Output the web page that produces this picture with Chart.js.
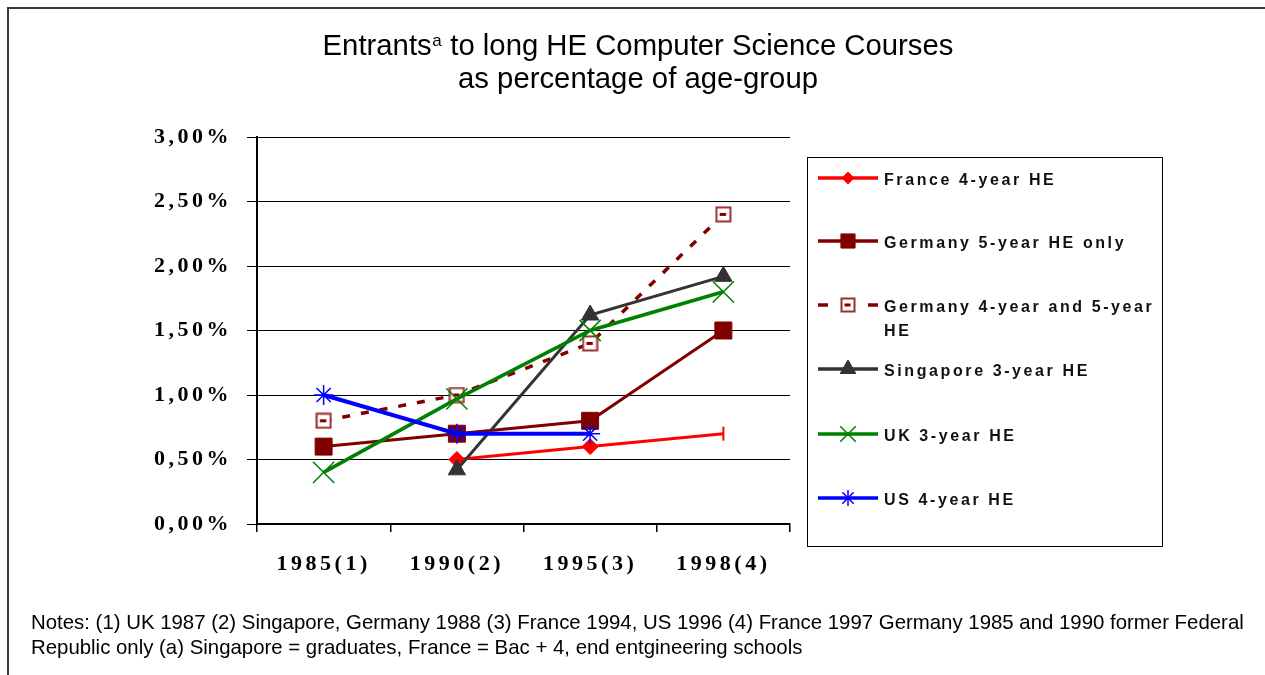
<!DOCTYPE html>
<html>
<head>
<meta charset="utf-8">
<script src="https://cdn.jsdelivr.net/npm/chart.js@4/dist/chart.umd.min.js"></script>
<style>
  html, body { margin: 0; padding: 0; background: #fff; }
  #wrap { position: relative; width: 1265px; height: 675px; }
</style>
</head>
<body>
<div id="wrap"><canvas id="c"></canvas></div>
<script>
// Entrants to long HE computer science courses, % of age-group
const categories = ['1985(1)', '1990(2)', '1995(3)', '1998(4)'];
const franceHE4 = [null, 0.5, 0.6, 0.7];
const germanyHE5 = [0.6, 0.7, 0.8, 1.5];
const germanyHE45 = [0.8, 1.0, 1.4, 2.4];
const singaporeHE3 = [null, 0.42, 1.62, 1.92];
const ukHE3 = [0.4, 0.97, 1.5, 1.8];
const usHE4 = [1.0, 0.7, 0.7, null];
const yTickValues = [0, 0.5, 1, 1.5, 2, 2.5, 3];

const seriesLabels = [
  ['France 4-year HE'],
  ['Germany 5-year HE only'],
  ['Germany 4-year and 5-year', 'HE'],
  ['Singapore 3-year HE'],
  ['UK 3-year HE'],
  ['US 4-year HE']
];
const titleMain = 'Entrants';
const titleSup = 'a';
const titleRest = ' to long HE Computer Science Courses';
const titleLine2 = 'as percentage of age-group';
const notes = [
  'Notes: (1) UK 1987 (2) Singapore, Germany 1988 (3) France 1994, US 1996 (4) France 1997 Germany 1985 and 1990 former Federal',
  'Republic only (a) Singapore = graduates, France = Bac + 4, end entgineering schools'
];

// hollow square marker with a short dash through it
function hollowSquare(size) {
  const c = document.createElement('canvas');
  c.width = c.height = size;
  const g = c.getContext('2d');
  g.fillStyle = '#fff';
  g.fillRect(1, 1, size - 2, size - 2);
  g.strokeStyle = '#9c2f2f';
  g.lineWidth = 2;
  g.strokeRect(1.5, 1.5, size - 3, size - 3);
  g.strokeStyle = '#800000';
  g.lineWidth = 3;
  g.beginPath();
  g.moveTo(size * 0.28, size / 2);
  g.lineTo(size * 0.66, size / 2);
  g.stroke();
  return c;
}
const squareMark = hollowSquare(17);
const squareMarkSmall = hollowSquare(16);

const FONT_SANS = '"Liberation Sans", Arial, Helvetica, sans-serif';
const FONT_SERIF = '"Liberation Serif", "Times New Roman", serif';

const datasets = [
  {
    label: seriesLabels[0].join(' '), data: franceHE4,
    borderColor: '#ff0000', backgroundColor: '#ff0000', borderWidth: 3,
    pointStyle: ['rectRot', 'rectRot', 'rectRot', 'line'],
    pointRotation: [0, 0, 0, 90],
    pointRadius: [8, 8, 8, 7], pointBorderWidth: [1, 1, 1, 2],
    pointBackgroundColor: '#ff0000', pointBorderColor: '#ff0000', order: 6,
    legendPoint: { pointStyle: 'rectRot', radius: 6, rotation: 0, borderWidth: 1 }
  },
  {
    label: seriesLabels[1].join(' '), data: germanyHE5,
    borderColor: '#800000', backgroundColor: '#800000', borderWidth: 3,
    pointStyle: 'rect', pointRadius: 12, pointBorderWidth: 1,
    pointBackgroundColor: '#800000', pointBorderColor: '#800000', order: 5,
    legendPoint: { pointStyle: 'rect', radius: 10, rotation: 0, borderWidth: 1 }
  },
  {
    label: seriesLabels[2].join(' '), data: germanyHE45,
    borderColor: '#800000', backgroundColor: '#800000', borderWidth: 3.5,
    borderDash: [8, 11],
    pointStyle: squareMark, pointRadius: 8, order: 4,
    legendDash: [10, 40],
    legendPoint: { pointStyle: squareMarkSmall, radius: 8, rotation: 0, borderWidth: 0 }
  },
  {
    label: seriesLabels[3].join(' '), data: singaporeHE3,
    borderColor: '#333333', backgroundColor: '#333333', borderWidth: 3,
    pointStyle: 'triangle', pointRadius: 10, pointBorderWidth: 1,
    pointBackgroundColor: '#333333', pointBorderColor: '#333333', order: 3,
    legendPoint: { pointStyle: 'triangle', radius: 9, rotation: 0, borderWidth: 1 }
  },
  {
    label: seriesLabels[4].join(' '), data: ukHE3,
    borderColor: '#008000', backgroundColor: '#008000', borderWidth: 3.5,
    pointStyle: 'crossRot', pointRadius: 15, pointBorderWidth: 1.5,
    pointBorderColor: '#008000', order: 2,
    legendPoint: { pointStyle: 'crossRot', radius: 11, rotation: 0, borderWidth: 1.5 }
  },
  {
    label: seriesLabels[5].join(' '), data: usHE4,
    borderColor: '#0000ff', backgroundColor: '#0000ff', borderWidth: 4,
    pointStyle: 'star', pointRadius: 10, pointBorderWidth: 1.5,
    pointBorderColor: '#0000ff', order: 1,
    legendPoint: { pointStyle: 'star', radius: 8, rotation: 0, borderWidth: 1.5 }
  }
];

// outer frame, spaced axis labels, title, boxed legend and notes
const decorations = {
  id: 'decorations',
  beforeDraw(chart) {
    const ctx = chart.ctx;
    ctx.save();
    ctx.strokeStyle = '#3a3a3a';
    ctx.lineWidth = 2;
    ctx.beginPath();
    ctx.moveTo(8, 680);
    ctx.lineTo(8, 8);
    ctx.lineTo(1270, 8);
    ctx.stroke();
    ctx.restore();
    ctx.letterSpacing = '3.5px';
  },
  beforeDatasetsDraw(chart) {
    chart.ctx.letterSpacing = '0px';
  },
  afterDraw(chart) {
    const ctx = chart.ctx;
    ctx.save();
    ctx.letterSpacing = '0px';
    ctx.fillStyle = '#000';
    ctx.textBaseline = 'alphabetic';
    ctx.textAlign = 'left';

    // title
    const cx = 638;
    const big = '29.3px ' + FONT_SANS;
    const small = '17px ' + FONT_SANS;
    ctx.font = big;
    const w1 = ctx.measureText(titleMain).width;
    const w3 = ctx.measureText(titleRest).width;
    ctx.font = small;
    const w2 = ctx.measureText(titleSup).width + 1;
    const x = cx - (w1 + w2 + w3) / 2;
    ctx.font = big;
    ctx.fillText(titleMain, x, 55);
    ctx.font = small;
    ctx.fillText(titleSup, x + w1 + 0.5, 46);
    ctx.font = big;
    ctx.fillText(titleRest, x + w1 + w2, 55);
    ctx.textAlign = 'center';
    ctx.fillText(titleLine2, cx, 88);

    // legend box
    ctx.strokeStyle = '#000';
    ctx.lineWidth = 1;
    ctx.strokeRect(807.5, 157.5, 355, 389);
    const rowY = [178, 241, 305, 369, 434, 498];
    chart.data.datasets.forEach((ds, i) => {
      const y = rowY[i];
      ctx.save();
      ctx.strokeStyle = ds.borderColor;
      ctx.lineWidth = 3.5;
      ctx.setLineDash(ds.legendDash || []);
      ctx.beginPath();
      ctx.moveTo(818, y);
      ctx.lineTo(878, y);
      ctx.stroke();
      ctx.restore();
      ctx.save();
      ctx.fillStyle = ds.pointBackgroundColor || ds.borderColor;
      ctx.strokeStyle = ds.pointBorderColor || ds.borderColor;
      ctx.lineWidth = ds.legendPoint.borderWidth;
      Chart.helpers.drawPoint(ctx, ds.legendPoint, 848, y);
      ctx.restore();
      ctx.save();
      ctx.fillStyle = '#111';
      ctx.font = 'bold 16px ' + FONT_SANS;
      ctx.letterSpacing = '2.6px';
      ctx.textAlign = 'left';
      ctx.textBaseline = 'middle';
      seriesLabels[i].forEach((t, k) => ctx.fillText(t, 884, y + 3 + k * 24));
      ctx.restore();
    });

    // notes
    ctx.textAlign = 'left';
    ctx.fillStyle = '#000';
    ctx.font = '20.4px ' + FONT_SANS;
    ctx.fillText(notes[0], 31, 629);
    ctx.fillText(notes[1], 31, 654);
    ctx.restore();
  }
};

new Chart(document.getElementById('c'), {
  type: 'line',
  data: { labels: categories, datasets },
  plugins: [decorations],
  options: {
    responsive: true,
    maintainAspectRatio: false,
    animation: false,
    spanGaps: false,
    layout: { padding: { left: 0, right: 475, top: 137, bottom: 0 } },
    elements: { line: { tension: 0, fill: false } },
    plugins: { legend: { display: false }, title: { display: false }, tooltip: { enabled: false } },
    scales: {
      x: {
        type: 'category',
        offset: true,
        grid: { offset: true, drawOnChartArea: false, drawTicks: true, tickLength: 8, color: '#000', lineWidth: 1.5 },
        border: { display: true, color: '#000', width: 2 },
        ticks: { color: '#000', padding: 19, font: { family: FONT_SERIF, size: 22, weight: 'bold' } },
        afterFit(scale) { scale.height = 151; }
      },
      y: {
        min: 0, max: 3,
        afterBuildTicks(scale) { scale.ticks = yTickValues.map(v => ({ value: v })); },
        grid: { color: '#000', lineWidth: 1, tickLength: 10, drawTicks: true },
        border: { display: true, color: '#000', width: 2 },
        ticks: {
          color: '#000', padding: 15,
          font: { family: FONT_SERIF, size: 22, weight: 'bold' },
          callback: v => v.toFixed(2).replace('.', ',') + '%'
        },
        afterFit(scale) { scale.width = 257; }
      }
    }
  }
});
</script>
</body>
</html>
